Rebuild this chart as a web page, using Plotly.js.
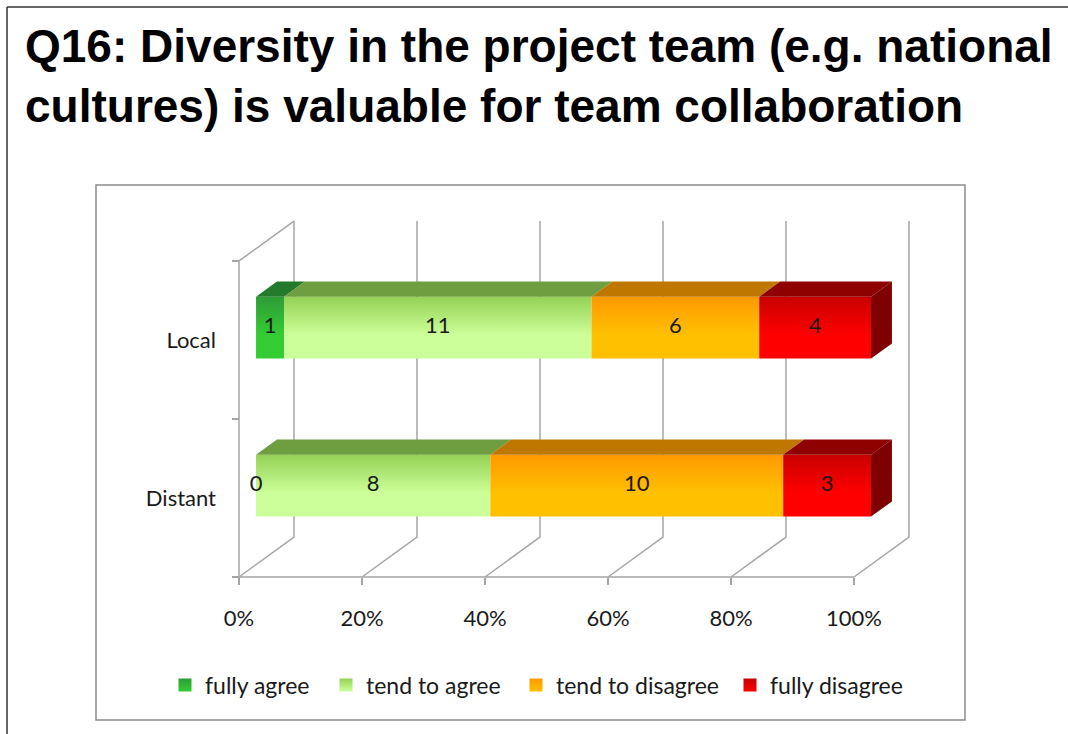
<!DOCTYPE html>
<html><head><meta charset="utf-8">
<script src="https://cdn.plot.ly/plotly-3.0.1.min.js"></script>
<style>html,body{margin:0;padding:0;background:#fff}#chart{width:1068px;height:734px}</style>
</head><body><div id="chart"></div>
<script>
// ---------- data ----------
const categories = ['Distant', 'Local'];
const seriesNames = ['fully agree', 'tend to agree', 'tend to disagree', 'fully disagree'];
const fullyAgree = [0, 1];
const tendToAgree = [8, 11];
const tendToDisagree = [10, 6];
const fullyDisagree = [3, 4];
const xTickVals = [0, 20, 40, 60, 80, 100];
const xTickText = ['0%', '20%', '40%', '60%', '80%', '100%'];
const titleText = 'Q16: Diversity in the project team (e.g. national<br>cultures) is valuable for team collaboration';

// ---------- styles ----------
const seriesValues = [fullyAgree, tendToAgree, tendToDisagree, fullyDisagree];
const frontLight = ['#33cc33', '#ccff99', '#ffc000', '#ff0000'];
const frontDark  = ['#2e9c36', '#94d155', '#ff9900', '#c80000'];
const topColors  = ['#237a2b', '#6e9e40', '#bf7700', '#8f0000'];
const sideColor  = '#7e0000';
const gridColor  = '#a5a5a5';
const labelFont  = 'Lato, "Open Sans", sans-serif';
const legendTextStartPx = [205, 366, 556, 770];

// plot area in pixels and scales
const PL = 229, PR = 914, PT = 213, PB = 585;
const X0PX = 239, XPX = 6.15;   // 0% front at 239px
const Y0PX = 577, YPX = 158;    // floor front at 577px
const xRange = [(PL - X0PX) / XPX, (PR - X0PX) / XPX];
const yRange = [(Y0PX - PB) / YPX, (Y0PX - PT) / YPX];
const pxX = p => (p - PL) / (PR - PL);
const pxY = p => (PB - p) / (PB - PT);

// 3D depth offsets (data units)
const DX = 8.94, DY = 0.253, D0 = 0.31, D1 = 0.69, H = 0.196;

const traces = [];
const lineStyle = {color: gridColor, width: 1.5};

// floor diagonals + back wall verticals
const gx = [], gy = [];
xTickVals.forEach(t => { gx.push(t, t + DX, t + DX, null); gy.push(0, DY, 2 + DY, null); });
// left wall
gx.push(0, 0, DX, null); gy.push(0, 2, 2 + DY, null);
// front floor edge
gx.push(0, 100); gy.push(0, 0);
traces.push({type: 'scatter', mode: 'lines', x: gx, y: gy, line: lineStyle, hoverinfo: 'skip', showlegend: false});

const lx = [], ly = [], lt = [];
categories.forEach((cat, i) => {
  const total = seriesValues.reduce((s, arr) => s + arr[i], 0);
  const cy = i + 0.5;
  const yb0 = cy + D0 * DY - H, yt0 = cy + D0 * DY + H;
  const yt1 = cy + D1 * DY + H, yb1 = cy + D1 * DY - H;
  let cum = 0;
  let lastEnd = 0;
  seriesValues.forEach((arr, s) => {
    const v = arr[i];
    const a = cum / total * 100, b = (cum + v) / total * 100;
    cum += v;
    lx.push((a + b) / 2 + D0 * DX); ly.push(cy + D0 * DY); lt.push(String(v));
    if (v <= 0) return;
    lastEnd = b;
    const fa = a + D0 * DX, fb = b + D0 * DX, ba = a + D1 * DX, bb = b + D1 * DX;
    traces.push({type: 'scatter', mode: 'none', fill: 'toself',
      x: [fa, fb, fb, fa, fa], y: [yb0, yb0, yt0, yt0, yb0],
      fillgradient: {type: 'vertical', start: yb0, stop: yt0,
        colorscale: [[0, frontLight[s]], [0.38, frontLight[s]], [1, frontDark[s]]]},
      hoverinfo: 'skip', showlegend: false});
    traces.push({type: 'scatter', mode: 'none', fill: 'toself',
      x: [fa, fb, bb, ba, fa], y: [yt0, yt0, yt1, yt1, yt0],
      fillcolor: topColors[s], hoverinfo: 'skip', showlegend: false});
  });
  const e0 = lastEnd + D0 * DX, e1 = lastEnd + D1 * DX;
  traces.push({type: 'scatter', mode: 'none', fill: 'toself',
    x: [e0, e1, e1, e0, e0], y: [yb0, yb1, yt1, yt0, yb0],
    fillcolor: sideColor, hoverinfo: 'skip', showlegend: false});
});

traces.push({type: 'scatter', mode: 'text', x: lx, y: ly, text: lt,
  textposition: 'middle center', cliponaxis: false,
  textfont: {family: labelFont, size: 22, color: '#1a1a1a'},
  hoverinfo: 'skip', showlegend: false});

const legendKeys = ['legend', 'legend2', 'legend3', 'legend4'];
seriesNames.forEach((n, s) => {
  traces.push({type: 'scatter', mode: 'markers', x: [null], y: [null], name: n,
    legend: legendKeys[s], showlegend: true,
    marker: {symbol: 'square', size: 13, color: frontDark[s],
      gradient: {type: 'vertical', color: frontLight[s]}}});
});

const layout = {
  width: 1068, height: 734, autosize: false,
  margin: {l: PL, r: 1068 - PR, t: PT, b: 734 - PB, pad: 0},
  paper_bgcolor: '#ffffff', plot_bgcolor: 'rgba(0,0,0,0)',
  title: {text: titleText, xref: 'container', yref: 'container', x: 25 / 1068, xanchor: 'left',
    y: 1 - 62 / 734, yanchor: 'top',
    font: {family: '"Liberation Sans", Arial, sans-serif', size: 46, weight: 'bold', color: '#000'}},
  xaxis: {range: xRange, anchor: 'free', position: pxY(Y0PX), showgrid: false, zeroline: false,
    showline: false, tickmode: 'array', tickvals: xTickVals, ticktext: xTickText,
    ticks: 'outside', ticklen: 7, tickwidth: 1.5, tickcolor: gridColor, ticklabelstandoff: 15,
    tickfont: {family: labelFont, size: 22, color: '#1a1a1a'}, fixedrange: true},
  yaxis: {range: yRange, anchor: 'free', position: pxX(X0PX), showgrid: false, zeroline: false,
    showline: false, tickmode: 'array', tickvals: categories.map((c, i) => i + 0.5), ticktext: categories,
    ticks: '', ticklabelstandoff: 23,
    minor: {tickmode: 'array', tickvals: [0, 1, 2], ticks: 'outside', ticklen: 7, tickwidth: 1.5, tickcolor: gridColor, showgrid: false},
    tickfont: {family: labelFont, size: 22, color: '#1a1a1a'}, fixedrange: true},
  showlegend: true,
  shapes: [
    {type: 'rect', xref: 'paper', yref: 'paper', x0: pxX(96), x1: pxX(965), y0: pxY(720), y1: pxY(185),
      line: {color: '#8c8c8c', width: 1.5}, fillcolor: 'rgba(0,0,0,0)', layer: 'below'},
    {type: 'line', xref: 'paper', yref: 'paper', x0: pxX(7), x1: pxX(7), y0: pxY(7), y1: pxY(740),
      line: {color: '#333', width: 1.5}},
    {type: 'line', xref: 'paper', yref: 'paper', x0: pxX(7), x1: pxX(1070), y0: pxY(7), y1: pxY(7),
      line: {color: '#333', width: 1.5}}
  ]
};
legendKeys.forEach((k, s) => {
  layout[k] = {orientation: 'h', xref: 'paper', yref: 'paper',
    x: pxX(legendTextStartPx[s] - 40), xanchor: 'left', y: pxY(685), yanchor: 'middle',
    font: {family: labelFont, size: 23, color: '#1a1a1a'}, bgcolor: 'rgba(0,0,0,0)',
    borderwidth: 0, itemclick: false, itemdoubleclick: false};
});

Plotly.newPlot('chart', traces, layout, {displayModeBar: false, staticPlot: true});
</script></body></html>
